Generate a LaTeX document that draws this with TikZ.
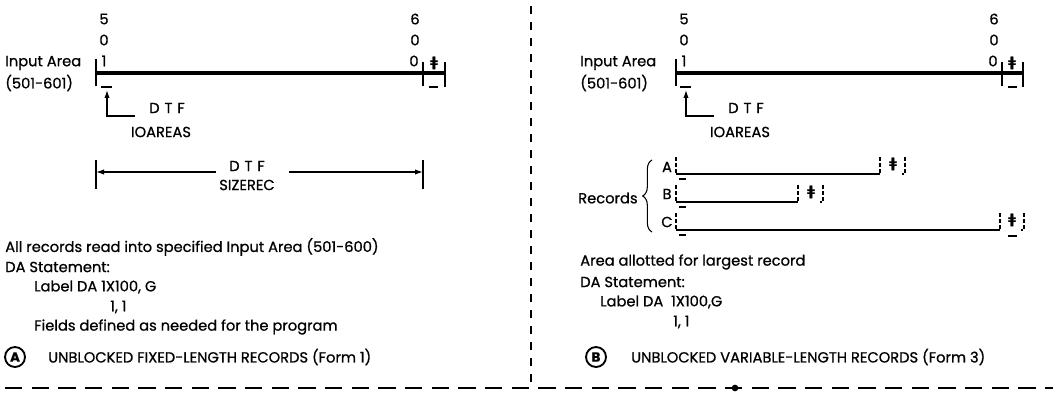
\documentclass[tikz,border=0pt]{standalone}
\usepackage{fontspec}
\setmainfont{Poppins}[FakeBold=0.8]
\newfontfamily\symfont{DejaVu Sans}[FakeBold=1.2]
\usetikzlibrary{arrows.meta,decorations.pathreplacing}
\begin{document}
\begin{tikzpicture}[x=0.75pt,y=-0.75pt,
  txt/.style={inner sep=0pt,anchor=west,font=\fontsize{11}{13}\selectfont},
  ctxt/.style={inner sep=0pt,font=\fontsize{11}{13}\selectfont},
  rmark/.style={inner sep=0pt,font=\symfont\bfseries\fontsize{10}{11}\selectfont},
  bar/.style={line width=2.8pt},
  tickline/.style={line width=1.1pt},
  thinline/.style={line width=0.9pt},
  dtick/.style={line width=0.8pt,dash pattern=on 3pt off 1.5pt},
  pointer/.style={line width=0.9pt,-{Latex[length=6pt,width=4pt]}},
  divider/.style={line width=0.8pt,dash pattern=on 6pt off 6pt},
  circled/.style={circle,draw,line width=1.4pt,inner sep=1pt,minimum size=15pt,font=\fontsize{10}{11}\selectfont\bfseries}
]
\useasboundingbox (0,0) rectangle (1053,403);

% ================= LEFT PANEL =================
\node[ctxt] (l5) at (104,19) {5};
\node[ctxt] (l0) at (104,40) {0};
\node[ctxt] (l1) at (104,61) {1};
\node[ctxt] (l6) at (415,19) {6};
\node[ctxt] (l60) at (415,40) {0};
\node[ctxt] (l600) at (414,61) {0};
\node[txt] (lin) at (5,63) {Input Area};
\node[txt] (lrng) at (5,83) {(501-601)};
\draw[bar] (96,73) -- (445,73);
\draw[tickline] (96,59) -- (96,86);
\draw[tickline] (423,62) -- (423,86);
\draw[tickline] (445,62) -- (445,87);
\node[rmark] (lrm) at (434,63) {ǂ};
\draw[thinline] (101,87) -- (112,87);
\draw[thinline] (429,87) -- (438,87);
\coordinate (ltip) at (107,90);
\node[ctxt] (ldtf) at (167,108) {D\,\,T\,\,F};
\node[ctxt] (lioa) at (161,132) {IOAREAS};
\coordinate (lcorner) at (135,116);
\draw[pointer] (lcorner) -| (ltip);

% SIZEREC dimension
\draw[tickline] (96,160) -- (96,189);
\draw[tickline] (423,160) -- (423,189);
\node[ctxt] (sdtf) at (247,166) {D\,\,T\,\,F};
\node[ctxt] (ssz) at (247,185) {SIZEREC};
\coordinate (sl) at (96,172);
\coordinate (sr) at (423,172);
\coordinate (sla) at (216,172);
\coordinate (sra) at (289,172);
\draw[pointer] (sla) -- (sl);
\draw[pointer] (sra) -- (sr);

% text block
\node[txt] (t1) at (5,247) {All records read into specified Input Area (501-600)};
\node[txt] (t2) at (5,267) {DA Statement:};
\node[txt] (t3) at (34,287) {Label DA 1X100, G};
\node[txt] (t4) at (110,307) {1, 1};
\node[txt] (t5) at (34,327) {Fields defined as needed for the program};
\node[circled] (ca) at (15,357) {A};
\node[txt] (capA) at (48,357) {UNBLOCKED FIXED-LENGTH RECORDS (Form 1)};

% ================= DIVIDERS =================
\coordinate (dvt) at (531,6);
\coordinate (dvb) at (531,388);
\draw[divider] (dvt) -- (dvb);
\coordinate (hl) at (5,388);
\coordinate (hr) at (1053,388);
\draw[divider,dash pattern=on 13pt off 7pt] (hl) -- (hr);
\node[circle,fill,inner sep=0pt,minimum size=5pt] (dot) at (735,388) {};

% ================= RIGHT PANEL =================
\node[ctxt] (r5) at (684,19) {5};
\node[ctxt] (r0) at (684,40) {0};
\node[ctxt] (r1) at (684,61) {1};
\node[ctxt] (r6) at (994,19) {6};
\node[ctxt] (r60) at (994,40) {0};
\node[ctxt] (r600) at (993,61) {0};
\node[txt] (rin) at (580,63) {Input Area};
\node[txt] (rrng) at (580,83) {(501-601)};
\draw[bar] (676,73) -- (1023,73);
\draw[tickline] (676,59) -- (676,86);
\draw[tickline] (1002,62) -- (1002,86);
\draw[tickline] (1023,62) -- (1023,87);
\node[rmark] (rrm) at (1012,63) {ǂ};
\draw[thinline] (680,87) -- (691,87);
\draw[thinline] (1008,87) -- (1017,87);
\coordinate (rtip) at (686,90);
\node[ctxt] (rdtf) at (746,108) {D\,\,T\,\,F};
\node[ctxt] (rioa) at (740,132) {IOAREAS};
\coordinate (rcorner) at (714,116);
\draw[pointer] (rcorner) -| (rtip);

% Records
\node[txt] (rec) at (578,198) {Records};
\coordinate (brb) at (652,232);
\coordinate (brt) at (652,160);
\draw[line width=0.8pt,decorate,decoration={brace,amplitude=7pt}] (brb) -- (brt);
\node[ctxt] (ra) at (667,167) {A};
\node[ctxt] (rb) at (667,194) {B};
\node[ctxt] (rc) at (667,222) {C};
% record A
\draw[dtick] (676,157) -- (676,174);
\draw[thinline] (676,174) -- (880,174);
\draw[dtick] (880,157) -- (880,174);
\node[rmark] (ma) at (893,164) {ǂ};
\draw[dtick] (905,157) -- (905,174) -- (902,174);
\draw[thinline] (679,179) -- (686,179);
% record B
\draw[dtick] (676,185) -- (676,202);
\draw[thinline] (676,202) -- (798,202);
\draw[dtick] (798,185) -- (798,202);
\node[rmark] (mb) at (811,192) {ǂ};
\draw[dtick] (823,185) -- (823,202) -- (820,202);
\draw[thinline] (679,207) -- (686,207);
% record C
\draw[dtick] (676,213) -- (676,230);
\draw[thinline] (676,230) -- (1000,230);
\draw[dtick] (1000,213) -- (1000,230);
\node[rmark] (mc) at (1012,220) {ǂ};
\draw[dtick] (1024,213) -- (1024,230) -- (1021,230);
\draw[thinline] (679,235) -- (686,235);
\draw[thinline] (1008,236) -- (1017,236);

% text block right
\node[txt] (u1) at (580,262) {Area allotted for largest record};
\node[txt] (u2) at (580,282) {DA Statement:};
\node[txt] (u3) at (600,302) {Label DA\ \ 1X100,G};
\node[txt] (u4) at (673,322) {1, 1};
\node[circled] (cb) at (596,357) {B};
\node[txt] (capB) at (631,357) {UNBLOCKED VARIABLE-LENGTH RECORDS (Form 3)};
\end{tikzpicture}
\end{document}
